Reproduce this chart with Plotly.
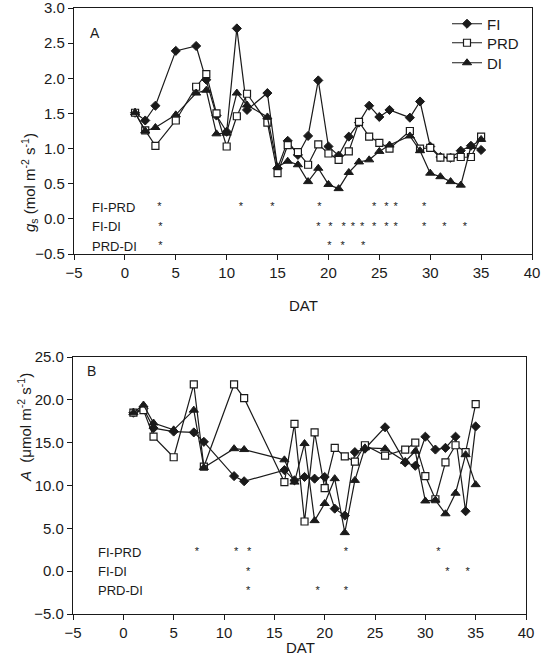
import plotly.graph_objects as go

# ---------------- data: panel A (stomatal conductance) ----------------
days_gs = [1, 2, 3, 5, 7, 8, 9, 10, 11, 12, 14, 15, 16, 17, 18, 19, 20, 21, 22, 23,
           24, 25, 26, 28, 29, 30, 31, 32, 33, 34, 35]
FI_gs = [1.51, 1.40, 1.61, 2.39, 2.46, 1.98, 1.47, 1.24, 2.71, 1.55, 1.79, 0.72, 1.11,
         0.91, 1.18, 1.97, 1.03, 0.90, 1.17, 1.37, 1.61, 1.45, 1.55, 1.44, 1.67, 1.03,
         0.88, 0.87, 0.97, 1.04, 0.98]
PRD_gs = [1.51, 1.26, 1.04, 1.40, 1.88, 2.06, 1.50, 1.03, 1.46, 1.78, 1.37, 0.65, 1.05,
          0.95, 0.77, 1.06, 0.93, 0.84, 0.96, 1.38, 1.17, 1.08, 1.00, 1.25, 1.00, 1.01,
          0.87, 0.87, 0.88, 0.88, 1.17]
DI_gs = [1.51, 1.25, 1.30, 1.48, 1.79, 1.83, 1.21, 1.22, 1.79, 1.62, 1.45, 0.74, 0.82,
         0.77, 0.53, 0.72, 0.49, 0.43, 0.66, 0.81, 0.84, 0.96, 1.05, 1.18, 0.97, 0.65,
         0.60, 0.53, 0.48, 1.03, 1.13]

sig_gs_FI_PRD = [3.4, 11.4, 14.5, 19.1, 24.5, 25.7, 26.6, 29.4]
sig_gs_FI_DI = [3.5, 19.0, 20.2, 21.5, 22.4, 23.3, 24.5, 25.7, 26.6, 29.4, 31.4, 33.4]
sig_gs_PRD_DI = [3.5, 20.1, 21.4, 23.4]

# ---------------- data: panel B (net photosynthesis) ----------------
days_A = [1, 2, 3, 5, 7, 8, 11, 12, 16, 17, 18, 19, 20, 21, 22, 23, 24, 26, 28, 29,
          30, 31, 32, 33, 34, 35]
FI_A = [18.5, 19.0, 16.7, 16.3, 16.2, 15.1, 11.1, 10.5, 11.8, 10.6, 11.0, 10.8, 11.0,
        7.3, 6.5, 13.9, 14.3, 16.8, 12.7, 12.3, 15.7, 14.2, 14.4, 15.7, 7.0, 16.9]
PRD_A = [18.5, 18.8, 15.7, 13.3, 21.8, 12.2, 21.8, 20.2, 10.4, 17.2, 5.8, 16.2, 9.7,
         14.4, 13.4, 12.8, 14.7, 13.5, 14.2, 15.0, 11.1, 8.4, 12.7, 14.7, 13.9, 19.5]
DI_A = [18.5, 19.4, 17.3, 16.5, 18.8, 12.1, 14.3, 14.2, 13.0, 10.4, 14.9, 5.9, 7.9,
        10.8, 4.5, 10.6, 14.4, 14.3, 12.8, 14.0, 8.2, 8.3, 6.7, 9.1, 13.6, 10.1]

sig_A_FI_PRD = [7.3, 11.2, 12.5, 22.1, 31.3]
sig_A_FI_DI = [12.4, 32.2, 34.2]
sig_A_PRD_DI = [12.4, 19.3, 22.1]

comparison_labels = ["FI-PRD", "FI-DI", "PRD-DI"]
x_ticks = [-5, 0, 5, 10, 15, 20, 25, 30, 35, 40]
gs_ticks = [-0.5, 0.0, 0.5, 1.0, 1.5, 2.0, 2.5, 3.0]
A_ticks = [-5, 0, 5, 10, 15, 20, 25]

# ---------------- styling ----------------
W, H = 541, 661
FONT = "Liberation Sans, Arial, sans-serif"
INK = "#1a1a1a"

series_style = {
    "FI": dict(symbol="diamond", size=7, color=INK, line=dict(color=INK, width=1)),
    "PRD": dict(symbol="square", size=7, color="white", line=dict(color=INK, width=1.2)),
    "DI": dict(symbol="triangle-up", size=8, color=INK, line=dict(color=INK, width=1)),
}
legend_ids = {"FI": "legend", "PRD": "legend2", "DI": "legend3"}
legend_rows_px = {"legend": 24, "legend2": 43, "legend3": 63}

fig = go.Figure()

def add_series(x, ys, xa, ya, legend):
    for name, y in ys:
        fig.add_trace(go.Scatter(
            x=x, y=y, name=name, mode="lines+markers",
            line=dict(color=INK, width=1.2),
            marker=series_style[name],
            xaxis=xa, yaxis=ya, showlegend=legend, legend=legend_ids[name],
            cliponaxis=False))

add_series(days_gs, [("FI", FI_gs), ("PRD", PRD_gs), ("DI", DI_gs)], "x", "y", True)
add_series(days_A, [("FI", FI_A), ("PRD", PRD_A), ("DI", DI_A)], "x2", "y2", False)

# significance rows
rows_gs = [0.16, -0.115, -0.39]
rows_A = [2.16, -0.09, -2.31]

def add_sig(sets, rows, xa, ya, label_x):
    for s, r, lab in zip(sets, rows, comparison_labels):
        fig.add_trace(go.Scatter(
            x=s, y=[r] * len(s), mode="text", text=["*"] * len(s),
            textposition="middle center",
            textfont=dict(family=FONT, size=11, color=INK),
            xaxis=xa, yaxis=ya, showlegend=False, hoverinfo="skip"))
        fig.add_annotation(x=label_x, y=r, xref=xa, yref=ya, text=lab,
                           showarrow=False, xanchor="left", yanchor="middle",
                           font=dict(family=FONT, size=13, color=INK))

add_sig([sig_gs_FI_PRD, sig_gs_FI_DI, sig_gs_PRD_DI], rows_gs, "x", "y", -3.44)
add_sig([sig_A_FI_PRD, sig_A_FI_DI, sig_A_PRD_DI], rows_A, "x2", "y2", -2.69)

axis_common = dict(
    showline=True, linecolor=INK, linewidth=1.2, mirror=True,
    ticks="outside", ticklen=5, tickwidth=1.2, tickcolor=INK,
    showgrid=False, zeroline=False,
    tickfont=dict(family=FONT, size=15, color=INK),
    automargin=False, fixedrange=True, ticklabeloverflow="allow",
)

def legend_box(key):
    return dict(x=447 / W, y=1 - legend_rows_px[key] / H, xanchor="left",
                yanchor="middle", bgcolor="rgba(0,0,0,0)",
                font=dict(family=FONT, size=15, color=INK), itemclick=False)

fig.update_layout(
    width=W, height=H,
    margin=dict(l=0, r=0, t=0, b=0),
    paper_bgcolor="white", plot_bgcolor="white",
    font=dict(family=FONT, color=INK),
    xaxis=dict(domain=[74 / W, 532 / W], range=[-5, 40], tickvals=x_ticks,
               anchor="y", **axis_common),
    yaxis=dict(domain=[1 - 254 / H, 1 - 8 / H], range=[-0.5, 3.0005], tickvals=gs_ticks,
               tickformat=".1f", anchor="x", **axis_common),
    xaxis2=dict(domain=[73 / W, 526 / W], range=[-5, 40], tickvals=x_ticks,
                anchor="y2", **axis_common),
    yaxis2=dict(domain=[1 - 614 / H, 1 - 357 / H], range=[-5, 25.005], tickvals=A_ticks,
                tickformat=".1f", anchor="x2", **axis_common),
    legend=legend_box("legend"),
    legend2=legend_box("legend2"),
    legend3=legend_box("legend3"),
    showlegend=True,
)

# panel letters, axis titles
fig.add_annotation(x=87.5 / W, y=1 - 22.5 / H, xref="paper", yref="paper", text="A",
                   showarrow=False, font=dict(family=FONT, size=14, color=INK))
fig.add_annotation(x=85 / W, y=1 - 370.5 / H, xref="paper", yref="paper", text="B",
                   showarrow=False, font=dict(family=FONT, size=14, color=INK))
fig.add_annotation(x=303 / W, y=1 - 305 / H, xref="paper", yref="paper", text="DAT",
                   showarrow=False, font=dict(family=FONT, size=15, color=INK))
fig.add_annotation(x=300 / W, y=1 - 658 / H, xref="paper", yref="paper", text="DAT",
                   showarrow=False, font=dict(family=FONT, size=15, color=INK))
fig.add_annotation(x=17 / W, y=1 - 131 / H, xref="paper", yref="paper",
                   text="<i>g</i><sub>s</sub> (mol m<sup>-2</sup> s<sup>-1</sup>)",
                   textangle=-90, showarrow=False,
                   font=dict(family=FONT, size=15, color=INK))
fig.add_annotation(x=13 / W, y=1 - 484 / H, xref="paper", yref="paper",
                   text="<i>A</i>  (μmol m<sup>-2</sup> s<sup>-1</sup>)",
                   textangle=-90, showarrow=False,
                   font=dict(family=FONT, size=15, color=INK))

fig.write_html("out.html")
